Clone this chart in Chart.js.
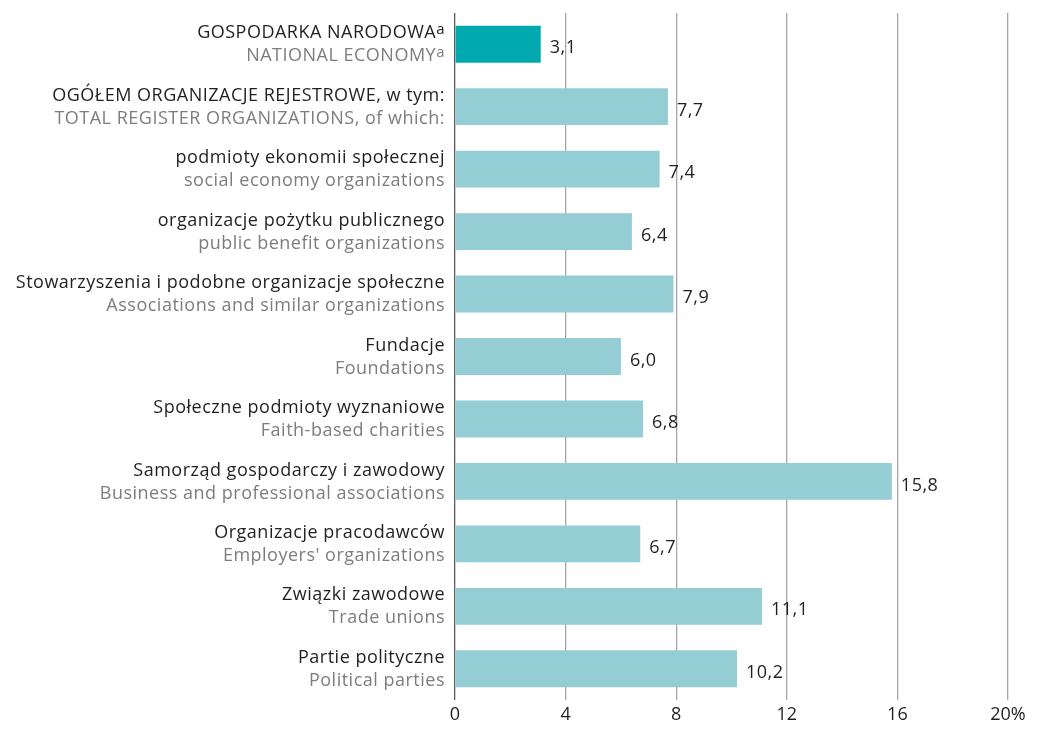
<!DOCTYPE html>
<html>
<head>
<meta charset="utf-8">
<script src="https://cdn.jsdelivr.net/npm/chart.js@4"></script>
<style>
  html, body { margin: 0; padding: 0; background: #fff; }
  #wrap { width: 1039px; height: 730px; position: relative; }
</style>
</head>
<body>
<div id="wrap"><canvas id="chart"></canvas></div>
<script>
// Etykiety kategorii (PL / EN) i wartości
const labelsPl = [
  'GOSPODARKA NARODOWA',
  'OGÓŁEM ORGANIZACJE REJESTROWE, w tym:',
  'podmioty ekonomii społecznej',
  'organizacje pożytku publicznego',
  'Stowarzyszenia i podobne organizacje społeczne',
  'Fundacje',
  'Społeczne podmioty wyznaniowe',
  'Samorząd gospodarczy i zawodowy',
  'Organizacje pracodawców',
  'Związki zawodowe',
  'Partie polityczne'
];
const labelsEn = [
  'NATIONAL ECONOMY',
  'TOTAL REGISTER ORGANIZATIONS, of which:',
  'social economy organizations',
  'public benefit organizations',
  'Associations and similar organizations',
  'Foundations',
  'Faith-based charities',
  'Business and professional associations',
  "Employers' organizations",
  'Trade unions',
  'Political parties'
];
const footnotes = ['a', '', '', '', '', '', '', '', '', '', ''];
const values = [3.1, 7.7, 7.4, 6.4, 7.9, 6.0, 6.8, 15.8, 6.7, 11.1, 10.2];
const xTicks = [0, 4, 8, 12, 16, 20];

const FONT = '"Open Sans", Lato, sans-serif';
const DARK = '#00a9ad';
const LIGHT = '#95cdd4';
const TEXT = '#231f20';
const GRAY = '#7d7d7d';

const barColors = values.map((v, i) => i === 0 ? DARK : LIGHT);

// Własne etykiety osi Y (dwie linie w różnych kolorach) i etykiety wartości
const labelPlugin = {
  id: 'labelPlugin',
  afterDraw(chart) {
    const ctx = chart.ctx;
    const y = chart.scales.y;
    const meta = chart.getDatasetMeta(0);
    const right = chart.chartArea.left - 10;
    ctx.save();
    ctx.textBaseline = 'middle';
    ctx.letterSpacing = '0.5px';
    labelsPl.forEach((pl, i) => {
      const cy = y.getPixelForValue(i);
      const sup = footnotes[i];
      ctx.textAlign = 'right';
      let supW = 0;
      if (sup) {
        ctx.font = '15px ' + FONT;
        supW = ctx.measureText(sup).width;
        ctx.fillStyle = TEXT;
        ctx.fillText(sup, right, cy - 14);
        ctx.fillStyle = GRAY;
        ctx.fillText(sup, right, cy + 9);
      }
      // linia polska
      ctx.font = '18px ' + FONT;
      ctx.fillStyle = TEXT;
      ctx.fillText(pl, right - supW, cy - 11);
      // linia angielska
      ctx.fillStyle = GRAY;
      ctx.fillText(labelsEn[i], right - supW, cy + 12);

      // wartość przy słupku
      const bar = meta.data[i];
      ctx.textAlign = 'left';
      ctx.fillStyle = TEXT;
      ctx.font = '18px ' + FONT;
      ctx.fillText(values[i].toFixed(1).replace('.', ','), bar.x + 9, cy + 4);
    });
    ctx.restore();
  }
};

const ctx = document.getElementById('chart').getContext('2d');
const chart = new Chart(ctx, {
  type: 'bar',
  data: {
    labels: labelsPl,
    datasets: [{
      data: values,
      backgroundColor: barColors,
      borderWidth: 0,
      barPercentage: 0.59,
      categoryPercentage: 1.0
    }]
  },
  options: {
    indexAxis: 'y',
    responsive: true,
    maintainAspectRatio: false,
    animation: false,
    layout: { padding: { left: 455, right: 31, top: 13, bottom: 0 } },
    plugins: {
      legend: { display: false },
      tooltip: { enabled: false }
    },
    scales: {
      x: {
        min: 0,
        max: 20,
        afterBuildTicks(scale) {
          scale.ticks = xTicks.map(v => ({ value: v }));
        },
        afterFit(scale) { scale.height = 30; },
        ticks: {
          color: TEXT,
          font: { family: FONT, size: 18 },
          padding: 4,
          maxRotation: 0,
          callback: (v) => v === 20 ? '20%' : String(v)
        },
        grid: {
          color: (c) => c.tick && c.tick.value === 0 ? '#5a5a5a' : '#a6a6a6',
          lineWidth: 1.3,
          drawTicks: false
        },
        border: { display: false }
      },
      y: {
        afterFit(scale) { scale.width = 0; },
        ticks: { display: false },
        grid: { display: false },
        border: { display: false }
      }
    }
  },
  plugins: [labelPlugin]
});
</script>
</body>
</html>
